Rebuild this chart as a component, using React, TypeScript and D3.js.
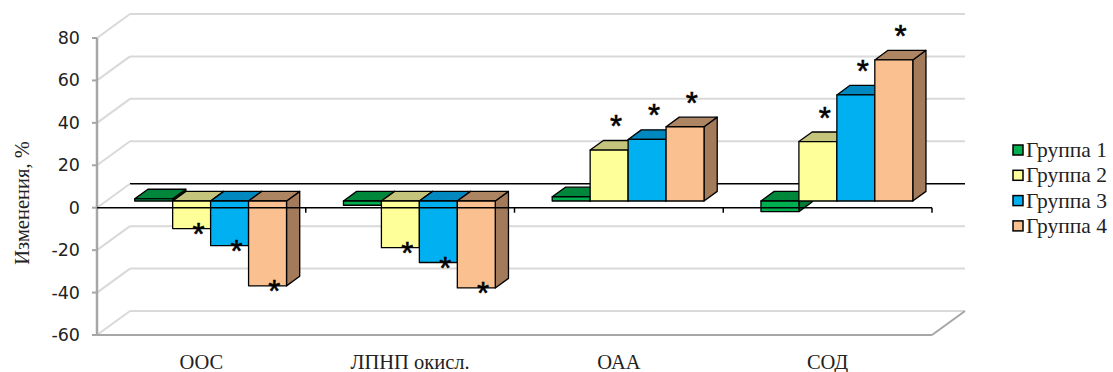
import * as d3 from 'd3';

// chart data
const categories = ['ООС', 'ЛПНП окисл.', 'ОАА', 'СОД'];
const groups = ['Группа 1', 'Группа 2', 'Группа 3', 'Группа 4'];
const group1 = [1, -2, 2, -5];
const group2 = [-13, -22, 24, 28];
const group3 = [-21, -29, 29, 50];
const group4 = [-40, -41, 35, 66.5];
// which groups carry a significance mark (*)
const starred = [false, true, true, true];
const yTicks = [-60, -40, -20, 0, 20, 40, 60, 80];

const frontColors = ['#00B050', '#FFFF99', '#00B0F0', '#FAC090'];
const topColors = ['#00873C', '#C4C47C', '#0088BF', '#AD8563'];
const sideColors = ['#007A35', '#B8B873', '#007DB0', '#A37B5A'];

const W = 1113;
const H = 372;
// depth of the 3d box (back wall offset) and where bars sit inside it
const wallDX = 33;
const wallDY = -24;
const barNear = 0.28;
const barFar = 0.68;

const App = () => {
  const series = [group1, group2, group3, group4];
  const y = d3.scaleLinear().domain([-60, 80]).range([335, 38]);
  const x0 = d3.scaleBand().domain(categories).range([97, 932]);
  const x1 = d3
    .scaleBand()
    .domain(groups)
    .range([0, x0.bandwidth()])
    .paddingInner(0)
    .paddingOuter(0.75);
  const bw = x1.bandwidth();

  const nX = wallDX * barNear;
  const nY = wallDY * barNear;
  const dX = wallDX * (barFar - barNear);
  const dY = wallDY * (barFar - barNear);

  const xLeft = x0.range()[0];
  const xRight = x0.range()[1];

  const bars: any[] = [];
  const stars: any[] = [];
  categories.forEach((cat, ci) => {
    groups.forEach((g, gi) => {
      const v = series[gi][ci];
      const x = (x0(cat) as number) + (x1(g) as number) + nX;
      const yb = y(0) + nY;
      const yv = y(v) + nY;
      const t = Math.min(yb, yv);
      const b = Math.max(yb, yv);
      bars.push({ key: `${ci}-${gi}`, gi, x, t, b });
      if (starred[gi]) {
        stars.push({
          key: `s${ci}-${gi}`,
          cx: x + bw * 0.68,
          cy: v >= 0 ? t - 31 : b - 2,
        });
      }
    });
  });

  const pts = (p: number[][]) => p.map((d) => d.join(',')).join(' ');

  return (
    <svg
      width={W}
      height={H}
      viewBox={`0 0 ${W} ${H}`}
      style={{ position: 'absolute', left: 0, top: 0, background: '#fff' }}
    >
      {/* back wall grid and left wall diagonals */}
      <g id="grid">
        {yTicks.map((t) => (
          <g key={t}>
            <line
              x1={xLeft + wallDX}
              x2={xRight + wallDX}
              y1={y(t) + wallDY}
              y2={y(t) + wallDY}
              stroke={t === 0 ? '#000' : '#D9D9D9'}
              strokeWidth={t === 0 ? 1.5 : 2}
            />
            <line
              x1={xLeft}
              x2={xLeft + wallDX}
              y1={y(t)}
              y2={y(t) + wallDY}
              stroke="#D9D9D9"
              strokeWidth={2}
            />
          </g>
        ))}
        {/* floor at the bottom */}
        <line
          x1={xLeft}
          x2={xRight}
          y1={y(-60)}
          y2={y(-60)}
          stroke="#A6A6A6"
          strokeWidth={2}
        />
        <line
          x1={xRight}
          x2={xRight + wallDX}
          y1={y(-60)}
          y2={y(-60) + wallDY}
          stroke="#A6A6A6"
          strokeWidth={2}
        />
      </g>

      {/* y axis */}
      <g id="yAxis" fontFamily="'DejaVu Sans', Verdana, sans-serif" fontSize={17.5} fill="#222">
        <line x1={xLeft} x2={xLeft} y1={y(80)} y2={y(-60)} stroke="#A6A6A6" strokeWidth={2.5} />
        {yTicks.map((t) => (
          <g key={t}>
            <line x1={xLeft - 5} x2={xLeft} y1={y(t)} y2={y(t)} stroke="#A6A6A6" strokeWidth={2} />
            <text x={80} y={y(t)} textAnchor="end" dominantBaseline="central">
              {t}
            </text>
          </g>
        ))}
      </g>

      {/* 3d bars */}
      <g id="bars" stroke="#000" strokeWidth={1.3} strokeLinejoin="round">
        {bars.map((d) => (
          <g key={d.key}>
            <polygon
              points={pts([
                [d.x + bw, d.t],
                [d.x + bw + dX, d.t + dY],
                [d.x + bw + dX, d.b + dY],
                [d.x + bw, d.b],
              ])}
              fill={sideColors[d.gi]}
            />
            <polygon
              points={pts([
                [d.x, d.t],
                [d.x + dX, d.t + dY],
                [d.x + bw + dX, d.t + dY],
                [d.x + bw, d.t],
              ])}
              fill={topColors[d.gi]}
            />
            <rect x={d.x} y={d.t} width={bw} height={Math.max(d.b - d.t, 0.5)} fill={frontColors[d.gi]} />
          </g>
        ))}
      </g>

      {/* front zero line with category ticks */}
      <g id="xAxis" stroke="#000" strokeWidth={1.5}>
        <line x1={xLeft} x2={xRight} y1={y(0)} y2={y(0)} />
        {categories.map((c) => (
          <line
            key={c}
            x1={(x0(c) as number) + x0.bandwidth()}
            x2={(x0(c) as number) + x0.bandwidth()}
            y1={y(0)}
            y2={y(0) + 5}
          />
        ))}
      </g>

      {/* significance marks */}
      <g
        id="stars"
        fontFamily="'Liberation Sans', Arial, sans-serif"
        fontSize={31}
        fill="#000"
        stroke="#000"
        strokeWidth={0.6}
      >
        {stars.map((s) => (
          <text key={s.key} x={s.cx} y={s.cy + 18} textAnchor="middle">
            *
          </text>
        ))}
      </g>

      {/* category labels */}
      <g fontFamily="'Liberation Serif', 'Times New Roman', serif" fontSize={20.5} fill="#222">
        {categories.map((c) => (
          <text
            key={c}
            x={(x0(c) as number) + x0.bandwidth() / 2}
            y={362}
            textAnchor="middle"
            dominantBaseline="central"
          >
            {c}
          </text>
        ))}
        <text
          transform={`translate(22, 203) rotate(-90)`}
          textAnchor="middle"
          dominantBaseline="central"
        >
          Изменения, %
        </text>
      </g>

      {/* legend */}
      <g id="legend" fontFamily="'Liberation Serif', 'Times New Roman', serif" fontSize={21.5} fill="#222">
        {groups.map((g, i) => (
          <g key={g} transform={`translate(1013, ${150 + i * 25.3})`}>
            <rect x={0} y={-5} width={10} height={10} fill={frontColors[i]} stroke="#000" strokeWidth={1.5} />
            <text x={13} y={0} dominantBaseline="central">
              {g}
            </text>
          </g>
        ))}
      </g>
    </svg>
  );
};

export default App;
